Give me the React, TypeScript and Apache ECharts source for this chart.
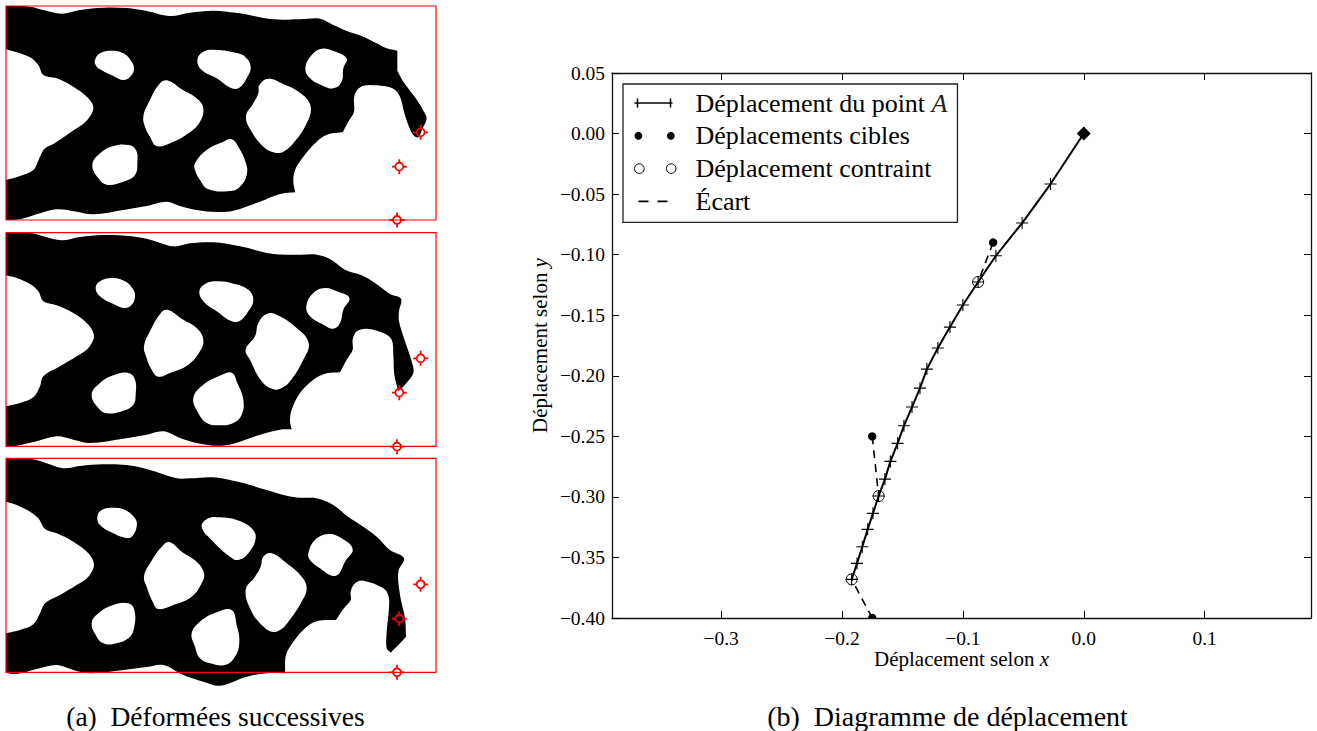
import React, { useEffect, useRef } from "react";
import * as echarts from "echarts";

type P = [number, number];

const SERIF = "'Liberation Serif', serif";

// ---- Left panels: outlines (panel units) ----
const panelOneOutline: P[] = [[18,18],[18,18],[90,20],[130,30],[185,41],[240,30],[310,23],[380,24],[440,33],[510,48],[570,38],[640,32],[720,40],[820,58],[900,58],[960,56],[1000,75],[1040,93],[1090,110],[1130,130],[1160,145],[1192,152],[1192,152],[1192,212],[1192,212],[1210,245],[1245,292],[1270,332],[1280,355],[1268,385],[1255,412],[1240,405],[1225,375],[1212,335],[1200,290],[1180,266],[1130,256],[1090,257],[1070,272],[1062,295],[1062,335],[1045,365],[1028,397],[1028,397],[985,403],[950,425],[910,470],[885,510],[880,545],[886,577],[886,577],[840,582],[780,605],[700,632],[650,636],[590,630],[540,618],[500,605],[440,618],[370,630],[280,643],[230,635],[170,628],[120,640],[60,658],[18,660],[18,660],[18,540],[18,540],[60,528],[100,510],[120,470],[135,445],[160,432],[210,398],[260,362],[280,325],[265,295],[220,260],[170,235],[130,225],[115,195],[90,172],[50,157],[18,148],[18,148]];
const panelOneHoles: P[][] = [
  [[285,180],[300,160],[335,152],[370,160],[395,185],[402,205],[395,225],[372,240],[340,228],[300,208],[287,195]],
  [[592,180],[610,155],[650,150],[700,157],[735,170],[752,200],[740,235],[718,263],[695,265],[650,235],[605,210]],
  [[916,205],[935,165],[965,146],[1000,153],[1040,175],[1030,205],[1025,245],[1000,265],[970,258],[930,235]],
  [[430,350],[445,310],[480,250],[505,242],[545,268],[590,295],[610,325],[600,365],[565,400],[510,430],[470,438],[450,410],[435,380]],
  [[738,350],[760,310],[775,280],[778,255],[805,236],[850,252],[905,282],[932,320],[920,370],[880,430],[850,455],[825,458],[790,440],[755,395]],
  [[277,495],[300,460],[340,438],[385,435],[408,450],[412,490],[405,525],[370,545],[320,554],[295,535]],
  [[585,490],[620,450],[670,425],[695,418],[715,440],[738,490],[740,525],[720,560],[690,573],[625,568],[600,540],[585,510]],
];
const panelOneTargets: P[] = [[1262,397],[1198,500],[1191,660]];

const panelTwoOutline: P[] = [[18,14],[18,14],[95,16],[130,25],[185,37],[240,27],[310,21],[380,23],[440,32],[520,55],[570,46],[640,43],[720,55],[820,78],[900,80],[950,80],[990,93],[1035,125],[1085,142],[1125,165],[1170,198],[1203,212],[1197,250],[1197,280],[1215,340],[1235,400],[1240,435],[1215,470],[1195,490],[1195,490],[1183,440],[1180,380],[1175,335],[1150,315],[1100,302],[1070,310],[1058,335],[1058,365],[1040,395],[1020,433],[1020,433],[980,436],[940,455],[900,495],[875,545],[870,580],[875,604],[875,604],[840,605],[780,620],[700,647],[650,653],[590,645],[540,630],[490,610],[440,620],[370,632],[270,645],[220,635],[170,625],[110,640],[50,653],[18,655],[18,655],[18,535],[18,535],[60,525],[100,508],[120,475],[130,445],[180,415],[230,385],[265,360],[282,325],[265,290],[220,255],[170,232],[130,220],[115,190],[90,168],[50,150],[18,142],[18,142]];
const panelTwoHoles: P[][] = [
  [[287,180],[300,160],[335,150],[375,160],[400,185],[405,205],[397,228],[375,240],[340,228],[300,205]],
  [[598,190],[615,168],[650,160],[700,167],[745,185],[760,215],[745,250],[720,278],[695,280],[650,250],[610,220]],
  [[919,235],[940,195],[975,180],[1010,190],[1048,210],[1030,245],[1020,285],[1000,302],[970,290],[930,265]],
  [[432,355],[450,310],[485,252],[505,246],[545,272],[590,300],[610,335],[600,370],[565,410],[510,435],[475,446],[455,425],[438,385]],
  [[737,365],[765,325],[775,285],[800,258],[830,260],[890,300],[926,345],[910,395],[870,460],[845,480],[820,484],[785,460],[750,395]],
  [[275,500],[300,465],[340,442],[385,435],[405,455],[407,500],[400,530],[370,548],[320,556],[295,540]],
  [[580,510],[610,470],[660,443],[695,434],[712,465],[730,515],[725,560],[700,585],[660,592],[620,585],[595,555]],
];
const panelTwoTargets: P[] = [[1262,391],[1198,494],[1191,656]];

const panelThreeOutline: P[] = [[18,10],[18,10],[95,12],[140,25],[190,40],[240,33],[310,28],[380,30],[440,42],[530,70],[570,70],[640,67],[720,82],[800,105],[860,122],[900,128],[950,130],[1000,150],[1040,182],[1090,215],[1130,245],[1170,285],[1212,310],[1195,350],[1200,420],[1215,490],[1218,545],[1218,545],[1195,570],[1172,593],[1172,593],[1160,580],[1160,530],[1166,470],[1166,425],[1150,400],[1090,377],[1065,385],[1052,410],[1052,435],[1030,462],[1008,495],[1008,495],[955,497],[920,515],[880,560],[858,600],[855,655],[855,655],[800,655],[740,665],[660,692],[610,680],[550,660],[490,630],[440,636],[370,645],[270,655],[220,645],[170,630],[110,642],[50,657],[18,654],[18,654],[18,535],[18,535],[60,525],[100,508],[120,475],[135,445],[180,420],[230,390],[265,365],[282,330],[265,295],[220,260],[170,235],[135,222],[115,190],[90,170],[50,150],[18,140],[18,140]];
const panelThreeHoles: P[][] = [
  [[292,185],[305,165],[340,158],[375,165],[405,190],[410,215],[395,245],[375,248],[340,235],[300,210]],
  [[605,215],[625,190],[660,187],[710,195],[755,220],[767,250],[745,295],[715,315],[690,305],[640,260]],
  [[925,295],[945,255],[985,237],[1025,250],[1058,283],[1035,320],[1015,358],[995,362],[960,340],[930,315]],
  [[432,365],[450,325],[490,270],[510,262],[545,290],[590,320],[612,355],[605,385],[575,425],[520,450],[475,462],[458,440],[440,395]],
  [[737,405],[765,365],[782,335],[790,305],[815,295],[860,325],[905,365],[920,400],[905,440],[865,500],[840,525],[815,530],[785,510],[755,470]],
  [[275,505],[295,475],[340,450],[385,445],[403,465],[402,520],[385,550],[340,567],[310,565],[290,545]],
  [[575,535],[600,500],[650,472],[695,465],[710,510],[718,560],[705,605],[675,630],[630,625],[600,610],[585,575]],
];
const panelThreeTargets: P[] = [[1262,388],[1198,491],[1191,652]];

// ---- Right plot: displacement data ----
const displacementPath: P[] = [[0,0],[-0.0275,-0.0417],[-0.051,-0.0739],[-0.0727,-0.1009],[-0.0874,-0.1226],[-0.1,-0.1416],[-0.1107,-0.1598],[-0.1207,-0.1771],[-0.1298,-0.1945],[-0.1355,-0.2102],[-0.1421,-0.2258],[-0.1488,-0.2413],[-0.154,-0.2558],[-0.16,-0.2707],[-0.1645,-0.2853],[-0.1697,-0.2993],[-0.1744,-0.3136],[-0.1788,-0.3268],[-0.1832,-0.3412],[-0.1876,-0.3549],[-0.192,-0.3681]];
const targetPoints: P[] = [[-0.075,-0.09],[-0.175,-0.25],[-0.175,-0.4]];
const constrainedPoints: P[] = [[-0.0874,-0.1226],[-0.1697,-0.2993],[-0.192,-0.3681]];
const startPoint: P[] = [[0,0]];
const xTicks = [-0.3,-0.2,-0.1,0,0.1];
const yTicks = [-0.4,-0.35,-0.3,-0.25,-0.2,-0.15,-0.1,-0.05,0,0.05];

const NAME_PATH = "Déplacement du point A";
const NAME_TARGET = "Déplacements cibles";
const NAME_CONSTRAINED = "Déplacement contraint";
const NAME_GAP = "Écart";

const CAPTION_A = "(a)  Déformées successives";
const CAPTION_B = "(b)  Diagramme de déplacement";

const gapLine = targetPoints.flatMap((t, i) => (i < targetPoints.length - 1 ? [t, constrainedPoints[i], null] : [t, constrainedPoints[i]]));

const TARGET_SYMBOL = "path://M0 7.5H4.5M10.5 7.5H15M7.5 0V4.5M7.5 10.5V15M7.5 3.5A4 4 0 1 1 7.49 3.5Z";

const iconBounds = "M0 0h0M56 16h0";
const ICON_PATH = `path://${iconBounds}M0 8H38M3 3.5V12.5M36 3.5V12.5`;
const ICON_DOTS = `path://${iconBounds}M7 8A4 4 0 1 1 7 7.99ZM40 8A4 4 0 1 1 40 7.99Z`;
const ICON_RINGS = `path://${iconBounds}M8 8A5 5 0 1 1 8 7.99ZM41 8A5 5 0 1 1 41 7.99Z`;
const ICON_DASH = `path://${iconBounds}M4 8H14M23 8H33`;

function panelSeries(index: number, outline: P[], holes: P[][], targets: P[]) {
  return [
    {
      type: "custom",
      xAxisIndex: index,
      yAxisIndex: index,
      silent: true,
      z: 1,
      data: [[outline[0][0], outline[0][1]]],
      renderItem: (_p: any, api: any) => ({
        type: "group",
        children: [
          {
            type: "polygon",
            shape: { points: outline.map((p) => api.coord(p)), smooth: 0.35 },
            style: { fill: "#000", stroke: "none" },
          },
          ...holes.map((h) => ({
            type: "polygon",
            shape: { points: h.map((p) => api.coord(p)), smooth: 0.42 },
            style: { fill: "#fff", stroke: "none" },
          })),
        ],
      }),
    },
    {
      type: "scatter",
      xAxisIndex: index,
      yAxisIndex: index,
      silent: true,
      clip: false,
      z: 3,
      symbol: TARGET_SYMBOL,
      symbolSize: 15,
      itemStyle: { color: "transparent", borderColor: "#f00", borderWidth: 1.8, opacity: 1 },
      data: targets,
    },
  ];
}

function panelAxes(index: number, yMin: number, yMax: number) {
  return {
    x: { type: "value", gridIndex: index, show: false, min: 18, max: 1308 },
    y: { type: "value", gridIndex: index, show: false, inverse: true, min: yMin, max: yMax },
  };
}

export default function App() {
  const ref = useRef<HTMLDivElement>(null);
  useEffect(() => {
    if (!ref.current) return;
    const chart = echarts.init(ref.current, undefined, { renderer: "svg" });
    const axes = [panelAxes(0, 18, 660), panelAxes(1, 14, 655), panelAxes(2, 10, 652)];
    const xMin = -0.3903;
    const xMax = 0.188;
    const yMin = -0.4;
    const yMax = 0.05;
    const tickStyle = { show: true, inside: true, length: 7, lineStyle: { color: "#000", width: 1 } };
    const lineStyle = { show: true, onZero: false, lineStyle: { color: "#111", width: 1.3 } };
    const fmt = (d: number) => (v: number) => v.toFixed(d).replace("-", "\u2212");
    const nameStyle = {
      fontFamily: SERIF,
      fontSize: 21,
      color: "#000",
      rich: {
        n: { fontFamily: SERIF, fontSize: 21, color: "#000" },
        i: { fontFamily: SERIF, fontSize: 21, fontStyle: "italic", color: "#000" },
      },
    };
    chart.setOption({
      animation: false,
      backgroundColor: "#fff",
      grid: [
        { left: 6, top: 6, width: 430, height: 214, show: true, z: 5, backgroundColor: "transparent", borderColor: "#f00", borderWidth: 1.2 },
        { left: 6, top: 232.7, width: 430, height: 213.6, show: true, z: 5, backgroundColor: "transparent", borderColor: "#f00", borderWidth: 1.2 },
        { left: 6, top: 458.3, width: 430, height: 214, show: true, z: 5, backgroundColor: "transparent", borderColor: "#f00", borderWidth: 1.2 },
        { left: 612, top: 73, width: 699, height: 545, show: false },
      ],
      xAxis: [
        axes[0].x, axes[1].x, axes[2].x,
        {
          type: "value", gridIndex: 3, min: xMin, max: xMax, position: "bottom",
          axisLine: lineStyle,
          axisTick: { ...tickStyle, customValues: xTicks },
          splitLine: { show: false },
          axisLabel: { customValues: xTicks, formatter: fmt(1), fontFamily: SERIF, fontSize: 19.5, color: "#000", margin: 10 },
          name: "{n|Déplacement selon }{i|x}",
          nameLocation: "middle",
          nameGap: 30,
          nameMoveOverlap: false,
          nameTextStyle: nameStyle,
        },
        {
          type: "value", gridIndex: 3, min: xMin, max: xMax, position: "top",
          axisLine: lineStyle,
          axisTick: { ...tickStyle, customValues: xTicks },
          splitLine: { show: false },
          axisLabel: { show: false },
        },
      ],
      yAxis: [
        axes[0].y, axes[1].y, axes[2].y,
        {
          type: "value", gridIndex: 3, min: yMin, max: yMax, position: "left",
          axisLine: lineStyle,
          axisTick: { ...tickStyle, customValues: yTicks },
          splitLine: { show: false },
          axisLabel: { customValues: yTicks, formatter: fmt(2), fontFamily: SERIF, fontSize: 19.5, color: "#000", margin: 7 },
          name: "{n|Déplacement selon }{i|y}",
          nameLocation: "middle",
          nameGap: 62,
          nameMoveOverlap: false,
          nameTextStyle: nameStyle,
        },
        {
          type: "value", gridIndex: 3, min: yMin, max: yMax, position: "right",
          axisLine: lineStyle,
          axisTick: { ...tickStyle, customValues: yTicks },
          splitLine: { show: false },
          axisLabel: { show: false },
        },
      ],
      legend: {
        left: 623,
        top: 84,
        orient: "vertical",
        align: "left",
        selectedMode: false,
        padding: [6, 10, 8, 9],
        itemWidth: 56,
        itemHeight: 16,
        itemGap: 6.8,
        backgroundColor: "#fff",
        borderColor: "#222",
        borderWidth: 1.3,
        borderRadius: 0,
        z: 10,
        textStyle: {
          fontFamily: SERIF,
          fontSize: 26,
          color: "#000",
          rich: {
            t: { fontFamily: SERIF, fontSize: 26, color: "#000" },
            i: { fontFamily: SERIF, fontSize: 26, fontStyle: "italic", color: "#222" },
          },
        },
        formatter: (n: string) => (n === NAME_PATH ? `{t|${n.slice(0, -1)}}{i|A}` : n),
        data: [
          { name: NAME_PATH, icon: ICON_PATH, itemStyle: { color: "none", borderColor: "#000", borderWidth: 1.5 } },
          { name: NAME_TARGET, icon: ICON_DOTS, itemStyle: { color: "#000", borderWidth: 0 } },
          { name: NAME_CONSTRAINED, icon: ICON_RINGS, itemStyle: { color: "none", borderColor: "#000", borderWidth: 1 } },
          { name: NAME_GAP, icon: ICON_DASH, itemStyle: { color: "none", borderColor: "#000", borderWidth: 1.6 } },
        ],
      },
      series: [
        ...panelSeries(0, panelOneOutline, panelOneHoles, panelOneTargets),
        ...panelSeries(1, panelTwoOutline, panelTwoHoles, panelTwoTargets),
        ...panelSeries(2, panelThreeOutline, panelThreeHoles, panelThreeTargets),
        {
          name: NAME_GAP,
          type: "line",
          xAxisIndex: 3,
          yAxisIndex: 3,
          silent: true,
          symbol: "none",
          connectNulls: false,
          lineStyle: { color: "#000", width: 1.6, type: [8, 6] },
          itemStyle: { color: "#000" },
          data: gapLine,
        },
        {
          name: NAME_PATH,
          type: "line",
          xAxisIndex: 3,
          yAxisIndex: 3,
          silent: true,
          symbol: "path://M0 6H12M6 0V12",
          symbolSize: 12,
          showAllSymbol: true,
          lineStyle: { color: "#000", width: 2 },
          itemStyle: { color: "transparent", borderColor: "#000", borderWidth: 1.1 },
          data: displacementPath,
        },
        {
          name: NAME_TARGET,
          type: "custom",
          xAxisIndex: 3,
          yAxisIndex: 3,
          silent: true,
          clip: true,
          z: 2,
          encode: { x: 0, y: 1 },
          renderItem: (_p: any, api: any) => {
            const c = api.coord([api.value(0), api.value(1)]);
            return { type: "circle", shape: { cx: c[0], cy: c[1], r: 4.2 }, style: { fill: "#000" } };
          },
          itemStyle: { color: "#000" },
          data: targetPoints,
        },
        {
          name: NAME_CONSTRAINED,
          type: "scatter",
          xAxisIndex: 3,
          yAxisIndex: 3,
          silent: true,
          symbol: "circle",
          symbolSize: 11,
          itemStyle: { color: "transparent", borderColor: "#000", borderWidth: 1, opacity: 1 },
          data: constrainedPoints,
        },
        {
          name: "Point A",
          type: "scatter",
          xAxisIndex: 3,
          yAxisIndex: 3,
          silent: true,
          symbol: "diamond",
          symbolSize: 14,
          itemStyle: { color: "#000", opacity: 1 },
          data: startPoint,
        },
      ],
      graphic: [
        { type: "text", x: 215.5, y: 716, style: { text: CAPTION_A, fontFamily: SERIF, fontSize: 27.5, fill: "#000", textAlign: "center", textVerticalAlign: "middle" } },
        { type: "text", x: 947.5, y: 716, style: { text: CAPTION_B, fontFamily: SERIF, fontSize: 28, fill: "#000", textAlign: "center", textVerticalAlign: "middle" } },
      ],
    });
    return () => chart.dispose();
  }, []);
  return <div ref={ref} style={{ position: "fixed", left: 0, top: 0, width: 1317, height: 731 }} />;
}
